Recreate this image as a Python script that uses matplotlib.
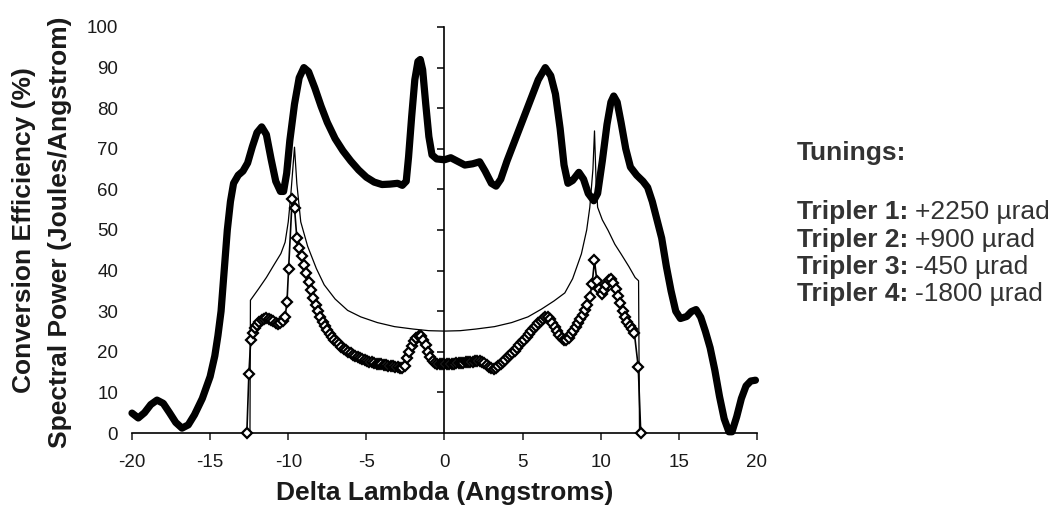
import matplotlib
matplotlib.use("Agg")
import matplotlib.pyplot as plt

plt.rcParams['font.family'] = ['Liberation Sans', 'DejaVu Sans']
plt.rcParams['axes.unicode_minus'] = False

# conversion efficiency (thick curve)
eff_x = [-20, -19.6, -19.2, -18.8, -18.4, -18.0, -17.6, -17.2, -16.8, -16.4, -16.0,
         -15.5, -15.0, -14.7, -14.5, -14.3, -14.1, -13.9, -13.7, -13.5, -13.2, -12.9,
         -12.6, -12.3, -12.0, -11.7, -11.4, -11.1, -10.8, -10.5, -10.3, -10.1, -9.9,
         -9.6, -9.3, -9.0, -8.7, -8.3, -7.9, -7.5, -7.0, -6.5, -6.0, -5.5, -5.0, -4.5,
         -4.0, -3.5, -3.0, -2.7, -2.45, -2.3, -2.1, -1.9, -1.7, -1.55, -1.4, -1.2,
         -1.0, -0.8, -0.5, 0, 0.4, 0.8, 1.3, 1.8, 2.25, 2.6, 3.0, 3.3, 3.6, 4.0, 4.5,
         5.0, 5.5, 6.0, 6.45, 6.8, 7.1, 7.4, 7.65, 7.9, 8.2, 8.6, 8.9, 9.2, 9.55, 9.8,
         10.1, 10.4, 10.65, 10.83, 11.05, 11.3, 11.6, 11.9, 12.3, 12.7, 13.0, 13.3,
         13.6, 13.9, 14.2, 14.5, 14.8, 15.1, 15.5, 15.8, 16.1, 16.4, 16.7, 17.0, 17.3,
         17.6, 17.9, 18.2, 18.4, 18.7, 19.0, 19.3, 19.6, 19.9]
eff_y = [4.9, 3.7, 5.0, 7.0, 8.1, 7.3, 5.0, 2.6, 1.2, 2.0, 4.5,
         8.5, 13.9, 19, 24, 30, 40, 50, 57, 61.5, 63.5, 64.5,
         66.5, 70.5, 74, 75.4, 73.5, 67.5, 62, 59.5, 59.5, 64, 72,
         81, 87.5, 90, 89, 85, 80.5, 76.5, 72.5, 69.5, 67, 64.8, 63, 61.8,
         61.2, 61.3, 61.5, 61, 62, 68, 78, 87, 91.5, 92, 89.5, 81,
         73, 68.5, 67.5, 67.3, 67.8, 67, 66, 66.3, 66.8, 64.5, 61.5, 60.8, 62.5, 67, 72,
         77, 82, 87, 90, 88, 83.5, 75, 66, 61.5, 62.2, 64.2, 62.5, 59, 57.2, 59,
         67, 76, 81.5, 83, 81.5, 76.5, 70, 65.5, 63.5, 62, 60.5, 57,
         52.5, 48, 41, 35, 30, 28.2, 28.7, 29.9, 30.4, 28.5, 25, 21, 15.5,
         9, 3.5, 0.3, 0.3, 4, 8.5, 11.6, 12.8, 13.0]

# spectral power, thin curve
thin_x = [-12.45, -12.42, -11.9, -11.4, -10.9, -10.47, -10.2, -10.0, -9.85, -9.6,
          -9.45, -9.2, -8.76, -8.2, -7.7, -7.0, -6.2, -5.36, -4.3, -3.2, -2.0, -1.0,
          0, 1.0, 2.0, 3.2, 4.3, 5.34, 6.2, 7.0, 7.7, 8.2, 8.76, 9.1, 9.3, 9.5, 9.6,
          9.7, 9.8, 10.1, 10.47, 10.9, 11.3, 11.8, 12.2, 12.42, 12.48]
thin_y = [0, 32.7, 35.5, 38.3, 41.5, 44.2, 47, 52, 58, 70.4,
          61.4, 52, 46, 40.5, 36.5, 33, 30.2, 28.6, 27.2, 26.2, 25.6, 25.2,
          25.1, 25.2, 25.6, 26.2, 27.2, 28.6, 30.5, 32.5, 34.5, 38, 44.1, 50, 55.6, 65, 74.4,
          62, 55.6, 52.5, 49.9, 46.5, 44.1, 41, 38.3, 37.5, 0]

# diamonds
dia_x = [-12.65, -12.52, -12.4, -12.27, -12.13, -12.0, -11.85, -11.7, -11.55, -11.4,
         -11.25, -11.1, -10.95, -10.8, -10.65, -10.5, -10.35, -10.2, -10.08, -9.98,
         -9.75, -9.6, -9.45, -9.3, -9.15, -9.0, -8.85, -8.7, -8.55, -8.4, -8.25, -8.1,
         -7.95, -7.8, -7.65, -7.5, -7.35, -7.2, -7.05, -6.9, -6.75, -6.6, -6.45, -6.3,
         -6.15, -6.0, -5.85, -5.7, -5.55, -5.4, -5.25, -5.1, -4.95, -4.8, -4.65, -4.5,
         -4.35, -4.2, -4.05, -3.9, -3.75, -3.6, -3.45, -3.3, -3.15, -3.0, -2.85, -2.7,
         -2.55, -2.4, -2.25, -2.1, -1.95, -1.8, -1.65, -1.5, -1.35, -1.2, -1.05, -0.9,
         -0.75, -0.6, -0.45, -0.3, -0.15, 0, 0.15, 0.3, 0.45, 0.6, 0.75, 0.9, 1.05,
         1.2, 1.35, 1.5, 1.65, 1.8, 1.95, 2.1, 2.25, 2.4, 2.55, 2.7, 2.85, 3.0, 3.15,
         3.3, 3.45, 3.6, 3.75, 3.9, 4.05, 4.2, 4.35, 4.5, 4.65, 4.8, 4.95, 5.1, 5.25,
         5.4, 5.55, 5.7, 5.85, 6.0, 6.15, 6.3, 6.45, 6.6, 6.75, 6.9, 7.05, 7.2, 7.35,
         7.5, 7.65, 7.8, 7.95, 8.1, 8.25, 8.4, 8.55, 8.7, 8.85, 9.0, 9.15, 9.3, 9.45,
         9.6, 9.75, 9.9, 10.05, 10.2, 10.35, 10.5, 10.65, 10.8, 10.95, 11.1, 11.25,
         11.4, 11.55, 11.7, 11.85, 12.0, 12.15, 12.4, 12.56]
dia_y = [0, 14.5, 23.0, 24.6, 25.8, 26.7, 27.4, 27.9, 28.2, 28.3,
         28.2, 27.9, 27.5, 27.1, 26.9, 27.0, 27.6, 28.6, 32.3, 40.3,
         57.7, 55.5, 48, 45.5, 43.5, 41.5, 39.5, 37.3, 35.1, 33.3, 31.5, 30,
         28.6, 27.4, 26.3, 25.3, 24.5, 23.7, 23.0, 22.4, 21.8, 21.3, 20.8, 20.4,
         20.0, 19.6, 19.3, 19.0, 18.7, 18.4, 18.2, 18.0, 17.8, 17.6, 17.4, 17.2,
         17.1, 17.0, 16.9, 16.8, 16.7, 16.6, 16.5, 16.4, 16.3, 16.2, 16.0, 15.9,
         16.6, 18.4, 20.0, 21.4, 22.6, 23.5, 24.0, 23.9, 23.0, 21.6, 20.0, 18.7,
         17.8, 17.3, 17.1, 17.0, 17.0, 17.0, 17.0, 17.0, 17.1, 17.1, 17.2, 17.2, 17.3,
         17.3, 17.4, 17.4, 17.5, 17.6, 17.7, 17.8, 17.7, 17.5, 17.3, 16.8, 16.3, 16.0, 15.8,
         15.9, 16.4, 16.9, 17.5, 18.0, 18.6, 19.2, 19.7, 20.2, 20.9, 21.6, 22.3, 23.0, 23.7,
         24.4, 25.1, 25.8, 26.4, 27.0, 27.6, 28.1, 28.5, 28.6, 28.1, 27.2, 26.2, 25.1, 24.1,
         23.3, 22.8, 22.8, 23.4, 24.3, 25.2, 26.1, 27.0, 28.0, 29.0, 30.2, 31.6, 33.5, 36.8,
         42.5, 37.5, 35.5, 34.3, 35.2, 36.5, 37.6, 37.9, 37.0, 35.5, 33.8, 32.0,
         30.0, 28.5, 27.4, 26.4, 25.5, 24.6, 16.3, 0]

tuning_names = ['Tripler 1:', 'Tripler 2:', 'Tripler 3:', 'Tripler 4:']
tuning_vals = ['+2250 \u00b5rad', '+900 \u00b5rad', '-450 \u00b5rad', '-1800 \u00b5rad']

fig = plt.figure(figsize=(10.59, 5.14), dpi=100)
ax = fig.add_axes([132 / 1059, 81 / 514, 625 / 1059, 406 / 514])

ax.plot(thin_x, thin_y, color='black', lw=0.9, clip_on=False, zorder=3)
ax.plot(dia_x, dia_y, color='black', lw=1.2, marker='D', ms=5.5, mfc='white',
        mec='black', mew=1.6, clip_on=False, zorder=4)
ax.plot(eff_x, eff_y, color='black', lw=5.2, solid_capstyle='round',
        solid_joinstyle='round', clip_on=False, zorder=5)

ax.set_xlim(-20, 20)
ax.set_ylim(0, 100)
ax.spines['top'].set_visible(False)
ax.spines['right'].set_visible(False)
ax.spines['left'].set_position(('data', 0))
ax.spines['left'].set_linewidth(1.2)
ax.spines['bottom'].set_linewidth(1.2)

ax.set_xticks(range(-20, 21, 5))
ax.tick_params(axis='x', direction='out', length=5, width=1.1, pad=10,
               labelsize=13.5, colors='#1a1a1a')
ax.set_yticks(range(10, 101, 10))
ax.tick_params(axis='y', direction='out', length=5, width=1.1, labelleft=False)

sec = ax.secondary_yaxis(0.0)
sec.set_yticks(range(0, 101, 10))
sec.spines['left'].set_visible(False)
sec.tick_params(length=0, pad=10, labelsize=13.5, colors='#1a1a1a')

ax.set_xlabel('Delta Lambda (Angstroms)', fontsize=19, fontweight='bold', color='#1a1a1a')
ax.xaxis.label.set_va('center')
ax.xaxis.set_label_coords(0.5, (433 - 493) / 406)

fig.text(24 / 1059, 1 - 230 / 514, 'Conversion Efficiency (%)', rotation=90,
         ha='center', va='center', fontsize=19, fontweight='bold', color='#1a1a1a')
fig.text(60 / 1059, 1 - 232 / 514, 'Spectral Power (Joules/Angstrom)', rotation=90,
         ha='center', va='center', fontsize=19, fontweight='bold', color='#1a1a1a')

fig.text(797 / 1059, 1 - 153 / 514, 'Tunings:', ha='left', va='center',
         fontsize=19, fontweight='bold', color='#333333')
for i, (name, val) in enumerate(zip(tuning_names, tuning_vals)):
    yy = 1 - (212 + 27.5 * i) / 514
    t = fig.text(797 / 1059, yy, name, ha='left', va='center',
                 fontsize=19, fontweight='bold', color='#333333')
    ax.annotate(val, xy=(1, 0.5), xycoords=t, xytext=(5, 0),
                textcoords='offset points', ha='left', va='center',
                fontsize=19, color='#333333', annotation_clip=False)

fig.savefig('out.png', dpi=100)
